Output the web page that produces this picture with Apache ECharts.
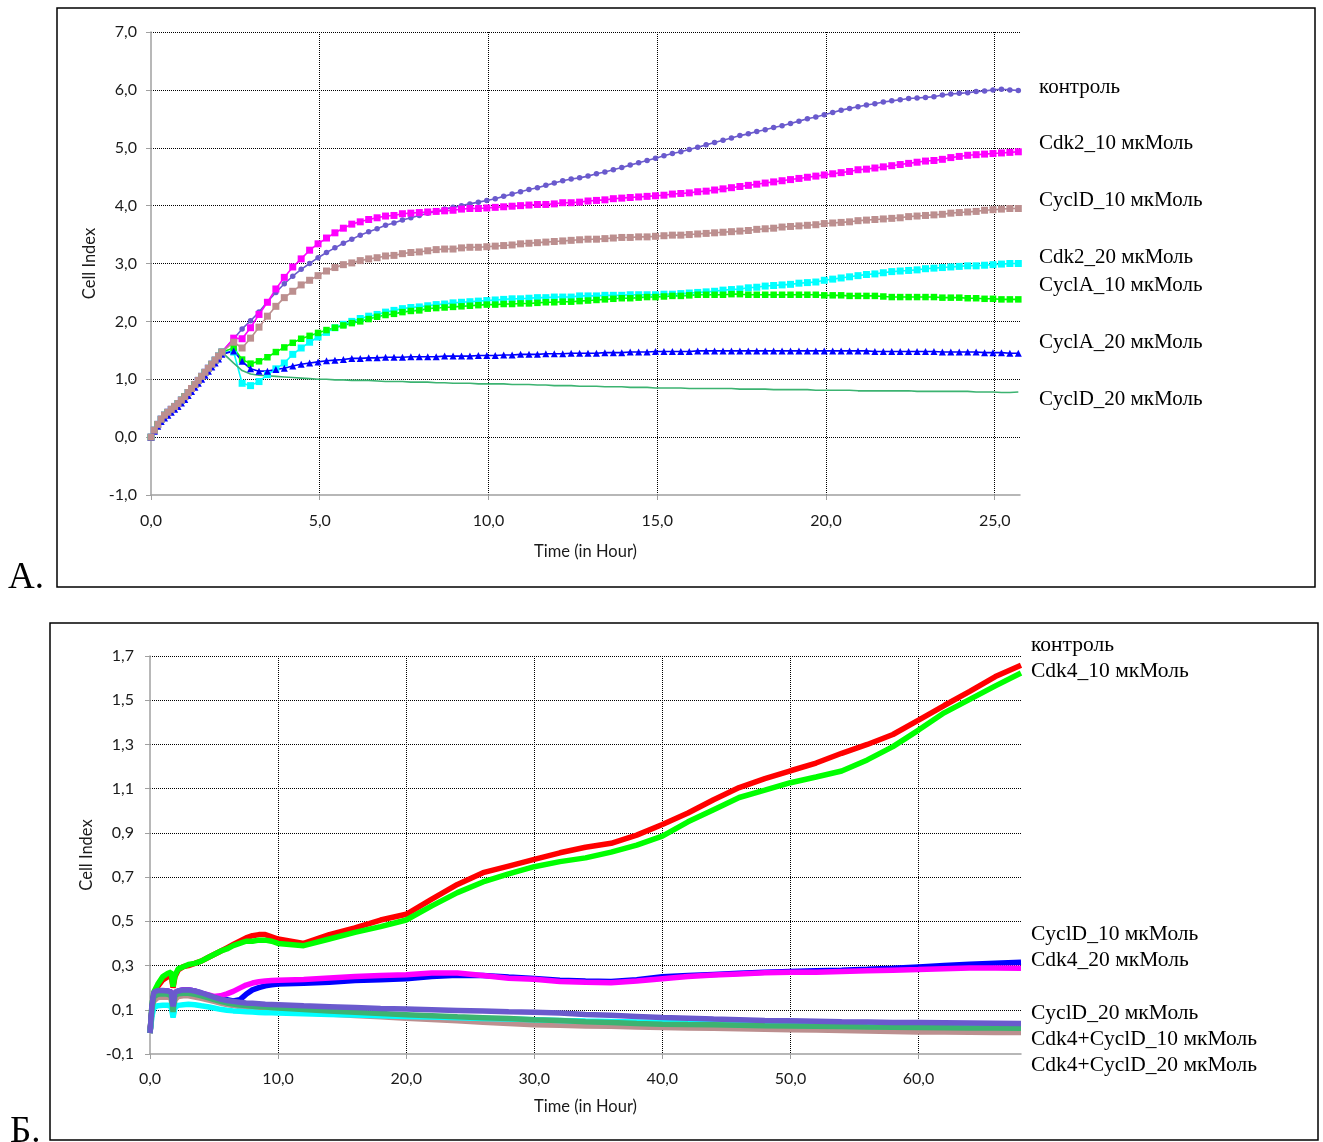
<!DOCTYPE html>
<html>
<head>
<meta charset="utf-8">
<script src="https://cdn.jsdelivr.net/npm/echarts@6/dist/echarts.min.js"></script>
<style>
  html, body { margin: 0; padding: 0; background: #fff; }
  #chart { width: 1323px; height: 1142px; }
</style>
</head>
<body>
<div id="chart"></div>
<script>
// ---- Панель A: данные ----
// частые измерения до добавления соединений
const timeEarlyA = [0, 0.1, 0.2, 0.3, 0.4, 0.5, 0.6, 0.7, 0.8, 0.9, 1.0,
  1.1, 1.2, 1.3, 1.4, 1.5, 1.6, 1.7, 1.8, 1.9, 2.0, 2.1]
const earlyA = [0.00, 0.12, 0.22, 0.31, 0.38, 0.43, 0.48, 0.53, 0.58, 0.64, 0.70,
  0.77, 0.84, 0.91, 0.98, 1.05, 1.12, 1.19, 1.26, 1.33, 1.40, 1.47]
const earlyBlueA = [0.00, 0.10, 0.19, 0.27, 0.33, 0.38, 0.43, 0.48, 0.53, 0.59, 0.65,
  0.72, 0.79, 0.86, 0.93, 1.00, 1.07, 1.14, 1.21, 1.28, 1.35, 1.43]

// измерения каждые 15 минут
const timeLateA = [2.45, 2.7, 2.95, 3.2, 3.45, 3.7, 3.95, 4.2, 4.45, 4.7,
  4.95, 5.2, 5.45, 5.7, 5.95, 6.2, 6.45, 6.7, 6.95, 7.2,
  7.45, 7.7, 7.95, 8.2, 8.45, 8.7, 8.95, 9.2, 9.45, 9.7,
  9.95, 10.2, 10.45, 10.7, 10.95, 11.2, 11.45, 11.7, 11.95, 12.2,
  12.45, 12.7, 12.95, 13.2, 13.45, 13.7, 13.95, 14.2, 14.45, 14.7,
  14.95, 15.2, 15.45, 15.7, 15.95, 16.2, 16.45, 16.7, 16.95, 17.2,
  17.45, 17.7, 17.95, 18.2, 18.45, 18.7, 18.95, 19.2, 19.45, 19.7,
  19.95, 20.2, 20.45, 20.7, 20.95, 21.2, 21.45, 21.7, 21.95, 22.2,
  22.45, 22.7, 22.95, 23.2, 23.45, 23.7, 23.95, 24.2, 24.45, 24.7,
  24.95, 25.2, 25.45, 25.7]

const controlA = [1.70, 1.87, 2.01, 2.16, 2.34, 2.50, 2.65, 2.78, 2.90, 3.00,
  3.10, 3.19, 3.27, 3.35, 3.42, 3.49, 3.55, 3.60, 3.66, 3.70,
  3.75, 3.79, 3.83, 3.87, 3.90, 3.94, 3.97, 4.00, 4.03, 4.06,
  4.09, 4.12, 4.16, 4.20, 4.24, 4.28, 4.31, 4.35, 4.39, 4.43,
  4.46, 4.48, 4.51, 4.55, 4.58, 4.62, 4.66, 4.70, 4.74, 4.78,
  4.82, 4.86, 4.90, 4.93, 4.97, 5.01, 5.05, 5.09, 5.13, 5.17,
  5.21, 5.24, 5.28, 5.31, 5.35, 5.38, 5.42, 5.46, 5.50, 5.53,
  5.57, 5.61, 5.65, 5.68, 5.71, 5.74, 5.76, 5.79, 5.81, 5.83,
  5.85, 5.86, 5.87, 5.88, 5.91, 5.93, 5.94, 5.95, 5.97, 5.98,
  6.00, 6.01, 6.00, 5.99]
const cdk2_10A = [1.71, 1.70, 1.89, 2.12, 2.33, 2.56, 2.76, 2.94, 3.08, 3.23,
  3.34, 3.44, 3.53, 3.61, 3.68, 3.72, 3.76, 3.79, 3.82, 3.83,
  3.86, 3.87, 3.88, 3.89, 3.90, 3.91, 3.92, 3.94, 3.95, 3.95,
  3.96, 3.97, 3.98, 3.99, 4.00, 4.01, 4.02, 4.02, 4.03, 4.05,
  4.05, 4.06, 4.08, 4.09, 4.10, 4.12, 4.13, 4.14, 4.15, 4.16,
  4.17, 4.18, 4.20, 4.21, 4.22, 4.24, 4.25, 4.27, 4.29, 4.31,
  4.33, 4.35, 4.37, 4.39, 4.41, 4.43, 4.45, 4.47, 4.49, 4.51,
  4.53, 4.55, 4.57, 4.59, 4.62, 4.63, 4.65, 4.67, 4.69, 4.71,
  4.73, 4.75, 4.77, 4.78, 4.80, 4.83, 4.85, 4.87, 4.88, 4.89,
  4.90, 4.91, 4.92, 4.93]
const cyclD_10A = [1.64, 1.54, 1.71, 1.90, 2.09, 2.26, 2.41, 2.52, 2.63, 2.71,
  2.79, 2.87, 2.93, 2.98, 3.01, 3.05, 3.08, 3.10, 3.13, 3.14,
  3.17, 3.19, 3.20, 3.22, 3.24, 3.25, 3.25, 3.27, 3.28, 3.28,
  3.29, 3.30, 3.31, 3.32, 3.34, 3.35, 3.36, 3.37, 3.38, 3.39,
  3.40, 3.41, 3.42, 3.42, 3.43, 3.44, 3.45, 3.45, 3.46, 3.46,
  3.47, 3.48, 3.49, 3.49, 3.50, 3.51, 3.52, 3.53, 3.54, 3.55,
  3.56, 3.57, 3.59, 3.60, 3.61, 3.63, 3.64, 3.65, 3.66, 3.67,
  3.69, 3.70, 3.71, 3.72, 3.74, 3.75, 3.76, 3.77, 3.78, 3.79,
  3.81, 3.82, 3.83, 3.84, 3.85, 3.87, 3.88, 3.89, 3.90, 3.92,
  3.93, 3.94, 3.95, 3.95]
const cdk2_20A = [1.47, 0.93, 0.89, 0.96, 1.08, 1.18, 1.28, 1.43, 1.54, 1.64,
  1.73, 1.81, 1.89, 1.95, 2.00, 2.05, 2.09, 2.12, 2.16, 2.19,
  2.22, 2.24, 2.25, 2.27, 2.29, 2.30, 2.32, 2.33, 2.34, 2.35,
  2.36, 2.37, 2.38, 2.39, 2.39, 2.40, 2.41, 2.41, 2.42, 2.42,
  2.42, 2.44, 2.44, 2.44, 2.45, 2.45, 2.45, 2.46, 2.46, 2.46,
  2.46, 2.47, 2.47, 2.48, 2.49, 2.50, 2.51, 2.52, 2.54, 2.55,
  2.56, 2.58, 2.59, 2.61, 2.62, 2.63, 2.64, 2.66, 2.67, 2.68,
  2.71, 2.73, 2.75, 2.77, 2.79, 2.81, 2.82, 2.84, 2.86, 2.87,
  2.88, 2.89, 2.91, 2.92, 2.93, 2.94, 2.95, 2.96, 2.96, 2.97,
  2.98, 2.99, 3.00, 3.00]
const cyclA_10A = [1.54, 1.34, 1.27, 1.31, 1.38, 1.47, 1.55, 1.63, 1.70, 1.75,
  1.80, 1.85, 1.89, 1.93, 1.97, 2.00, 2.04, 2.08, 2.11, 2.13,
  2.16, 2.18, 2.19, 2.22, 2.23, 2.24, 2.25, 2.26, 2.27, 2.28,
  2.29, 2.29, 2.30, 2.30, 2.31, 2.31, 2.32, 2.33, 2.33, 2.34,
  2.34, 2.35, 2.36, 2.37, 2.38, 2.39, 2.40, 2.40, 2.41, 2.42,
  2.42, 2.43, 2.44, 2.44, 2.45, 2.46, 2.46, 2.46, 2.46, 2.47,
  2.47, 2.46, 2.46, 2.46, 2.46, 2.46, 2.46, 2.46, 2.46, 2.46,
  2.45, 2.45, 2.45, 2.44, 2.44, 2.44, 2.44, 2.43, 2.42, 2.42,
  2.42, 2.42, 2.42, 2.42, 2.41, 2.41, 2.41, 2.40, 2.40, 2.39,
  2.39, 2.38, 2.38, 2.38]
const cyclA_20A = [1.49, 1.31, 1.18, 1.14, 1.14, 1.17, 1.19, 1.23, 1.26, 1.28,
  1.30, 1.32, 1.33, 1.34, 1.36, 1.36, 1.37, 1.37, 1.38, 1.38,
  1.38, 1.39, 1.39, 1.39, 1.39, 1.40, 1.40, 1.40, 1.40, 1.41,
  1.41, 1.41, 1.42, 1.42, 1.43, 1.43, 1.43, 1.44, 1.44, 1.44,
  1.45, 1.45, 1.45, 1.45, 1.46, 1.46, 1.46, 1.47, 1.47, 1.47,
  1.48, 1.48, 1.48, 1.48, 1.48, 1.49, 1.49, 1.49, 1.49, 1.49,
  1.49, 1.49, 1.49, 1.49, 1.49, 1.49, 1.49, 1.49, 1.49, 1.49,
  1.49, 1.49, 1.49, 1.49, 1.49, 1.49, 1.48, 1.48, 1.48, 1.48,
  1.48, 1.48, 1.48, 1.48, 1.47, 1.47, 1.47, 1.47, 1.47, 1.46,
  1.46, 1.46, 1.45, 1.45]
const cyclD_20A = [1.28, 1.15, 1.09, 1.07, 1.06, 1.05, 1.04, 1.03, 1.02, 1.01,
  1.00, 1.00, 0.99, 0.99, 0.98, 0.98, 0.98, 0.97, 0.96, 0.96,
  0.96, 0.95, 0.95, 0.95, 0.94, 0.94, 0.93, 0.93, 0.93, 0.92,
  0.92, 0.92, 0.92, 0.91, 0.91, 0.91, 0.90, 0.90, 0.89, 0.89,
  0.89, 0.88, 0.88, 0.88, 0.87, 0.87, 0.87, 0.86, 0.86, 0.86,
  0.85, 0.85, 0.85, 0.85, 0.84, 0.84, 0.84, 0.84, 0.84, 0.84,
  0.83, 0.83, 0.83, 0.83, 0.82, 0.82, 0.82, 0.82, 0.82, 0.81,
  0.81, 0.81, 0.81, 0.81, 0.80, 0.80, 0.80, 0.80, 0.80, 0.80,
  0.80, 0.79, 0.79, 0.79, 0.79, 0.79, 0.79, 0.79, 0.78, 0.78,
  0.78, 0.77, 0.77, 0.78]

// ---- Панель Б: данные ----
const timeB = [0, 0.15, 0.3, 0.6, 1.0, 1.4, 1.65, 1.8, 1.95, 2.2,
  2.6, 3, 3.5, 4, 4.5, 5, 5.5, 6, 6.5, 7,
  7.5, 8, 8.5, 9, 9.5,
  10, 12, 14, 16, 18, 20, 22, 24, 26, 28,
  30, 32, 34, 36, 38, 40, 42, 44, 46, 48,
  50, 52, 54, 56, 58, 60, 62, 64, 66, 68]
const controlB = [-0.005, 0.10, 0.17, 0.205, 0.235, 0.25, 0.255, 0.20, 0.25, 0.28,
  0.295, 0.30, 0.31, 0.32, 0.335, 0.35, 0.365, 0.38, 0.395, 0.41,
  0.425, 0.435, 0.44, 0.44, 0.43,
  0.42, 0.40, 0.44, 0.47, 0.506, 0.532, 0.60, 0.667, 0.72, 0.75,
  0.78, 0.81, 0.835, 0.853, 0.89, 0.938, 0.99, 1.05, 1.105, 1.145,
  1.181, 1.216, 1.26, 1.30, 1.345, 1.41, 1.476, 1.54, 1.607, 1.658]
const cdk4_10B = [-0.005, 0.12, 0.18, 0.215, 0.25, 0.265, 0.27, 0.205, 0.255, 0.285,
  0.295, 0.305, 0.31, 0.32, 0.335, 0.35, 0.365, 0.375, 0.39, 0.40,
  0.41, 0.41, 0.415, 0.415, 0.41,
  0.40, 0.39, 0.42, 0.45, 0.476, 0.506, 0.57, 0.63, 0.678, 0.715,
  0.747, 0.77, 0.787, 0.813, 0.845, 0.885, 0.95, 1.005, 1.06, 1.093,
  1.127, 1.153, 1.18, 1.23, 1.29, 1.365, 1.443, 1.504, 1.565, 1.623]
const cyclD_10B = [-0.005, 0.10, 0.17, 0.185, 0.185, 0.185, 0.18, 0.11, 0.175, 0.185,
  0.19, 0.19, 0.185, 0.175, 0.165, 0.155, 0.148, 0.145, 0.14, 0.145,
  0.17, 0.19, 0.20, 0.208, 0.213,
  0.217, 0.22, 0.225, 0.232, 0.236, 0.24, 0.25, 0.256, 0.255, 0.248,
  0.242, 0.234, 0.23, 0.228, 0.236, 0.249, 0.255, 0.26, 0.265, 0.27,
  0.273, 0.276, 0.279, 0.283, 0.288, 0.294, 0.30, 0.306, 0.311, 0.315]
const cdk4_20B = [-0.005, 0.10, 0.17, 0.185, 0.185, 0.185, 0.18, 0.11, 0.175, 0.185,
  0.19, 0.19, 0.185, 0.175, 0.168, 0.16, 0.163, 0.172, 0.183, 0.198,
  0.212, 0.221, 0.227, 0.23, 0.232,
  0.233, 0.237, 0.244, 0.25, 0.255, 0.258, 0.266, 0.266, 0.255, 0.243,
  0.238, 0.228, 0.224, 0.222, 0.23, 0.24, 0.25, 0.257, 0.262, 0.267,
  0.27, 0.27, 0.273, 0.276, 0.279, 0.282, 0.286, 0.289, 0.289, 0.288]
const cyclD_20B = [-0.005, 0.12, 0.18, 0.187, 0.187, 0.185, 0.18, 0.115, 0.18, 0.185,
  0.19, 0.19, 0.185, 0.177, 0.167, 0.157, 0.148, 0.142, 0.138, 0.134,
  0.131, 0.129, 0.127, 0.125, 0.124,
  0.123, 0.118, 0.114, 0.11, 0.106, 0.103, 0.10, 0.097, 0.094, 0.091,
  0.089, 0.085, 0.079, 0.075, 0.07, 0.065, 0.062, 0.058, 0.055, 0.052,
  0.05, 0.048, 0.046, 0.045, 0.043, 0.042, 0.041, 0.04, 0.039, 0.038]
const seaGreenB = [-0.005, 0.10, 0.16, 0.17, 0.172, 0.17, 0.165, 0.09, 0.165, 0.172,
  0.175, 0.175, 0.17, 0.163, 0.155, 0.146, 0.138, 0.131, 0.126, 0.122,
  0.119, 0.116, 0.114, 0.112, 0.11,
  0.108, 0.101, 0.095, 0.089, 0.083, 0.078, 0.073, 0.068, 0.064, 0.06,
  0.055, 0.051, 0.046, 0.042, 0.038, 0.035, 0.033, 0.032, 0.03, 0.028,
  0.027, 0.025, 0.024, 0.022, 0.021, 0.02, 0.019, 0.018, 0.018, 0.017]
const combo_10B = [-0.005, 0.07, 0.11, 0.118, 0.12, 0.12, 0.115, 0.065, 0.11, 0.12,
  0.123, 0.125, 0.123, 0.118, 0.114, 0.108, 0.102, 0.098, 0.095, 0.093,
  0.091, 0.09, 0.088, 0.087, 0.086,
  0.085, 0.082, 0.079, 0.076, 0.073, 0.07, 0.067, 0.064, 0.061, 0.058,
  0.055, 0.052, 0.049, 0.047, 0.045, 0.042, 0.04, 0.037, 0.034, 0.032,
  0.03, 0.029, 0.027, 0.026, 0.025, 0.024, 0.024, 0.025, 0.026, 0.027]
const combo_20B = [-0.005, 0.08, 0.14, 0.155, 0.158, 0.157, 0.152, 0.07, 0.145, 0.16,
  0.163, 0.163, 0.158, 0.152, 0.145, 0.138, 0.13, 0.124, 0.119, 0.115,
  0.111, 0.107, 0.103, 0.10, 0.096,
  0.093, 0.087, 0.081, 0.074, 0.068, 0.062, 0.056, 0.05, 0.044, 0.038,
  0.032, 0.03, 0.027, 0.025, 0.022, 0.02, 0.018, 0.016, 0.014, 0.012,
  0.01, 0.008, 0.006, 0.004, 0.002, 0.0, -0.001, -0.002, -0.003, -0.003]

// подписи кривых справа
const labelsA = ['контроль', 'Cdk2_10 мкМоль', 'CyclD_10 мкМоль', 'Cdk2_20 мкМоль',
  'CyclA_10 мкМоль', 'CyclA_20 мкМоль', 'CyclD_20 мкМоль']
const labelsB = ['контроль', 'Cdk4_10 мкМоль', 'CyclD_10 мкМоль', 'Cdk4_20 мкМоль',
  'CyclD_20 мкМоль', 'Cdk4+CyclD_10 мкМоль', 'Cdk4+CyclD_20 мкМоль']

// ---- построение ----
const timeA = timeEarlyA.concat(timeLateA)
const pairs = (xs, ys) => xs.map((x, i) => [x, ys[i]])
const fmt = v => v.toFixed(1).replace('.', ',')

const gridLine = { show: true, lineStyle: { color: '#000', type: [1, 1], width: 1 } }
const axisGray = { show: true, onZero: false, lineStyle: { color: '#a0a0a0', width: 1.5 } }
const tickFont = { fontFamily: 'Lato', fontSize: 16, color: '#1a1a1a' }
const nameFont = { fontFamily: 'Lato', fontSize: 16.5, color: '#1a1a1a' }

const lineA = (name, ys, color, symbol, size, early) => ({
  name, type: 'line', xAxisIndex: 0, yAxisIndex: 0,
  data: pairs(timeA, (early || earlyA).concat(ys)),
  symbol, symbolSize: size, showSymbol: symbol !== 'none',
  itemStyle: { color }, lineStyle: { color, width: 1.6 },
  animation: false, silent: true
})
const lineB = (name, ys, color) => ({
  name, type: 'line', xAxisIndex: 1, yAxisIndex: 1,
  data: pairs(timeB, ys), showSymbol: false,
  lineStyle: { color, width: 5.5 }, itemStyle: { color },
  animation: false, silent: true
})

const chart = echarts.init(document.getElementById('chart'))

const labelTexts = []
const yA = [87, 143, 200, 257, 285, 342, 399]
labelsA.forEach((t, i) => labelTexts.push({
  type: 'text', x: 1039, y: yA[i],
  style: { text: t, font: '21px "Liberation Serif"', fill: '#000', align: 'left', verticalAlign: 'middle' }
}))
const yB = [645, 671, 934, 960, 1013, 1039, 1065]
labelsB.forEach((t, i) => labelTexts.push({
  type: 'text', x: 1031, y: yB[i],
  style: { text: t, font: '21.5px "Liberation Serif"', fill: '#000', align: 'left', verticalAlign: 'middle' }
}))

chart.setOption({
  backgroundColor: '#fff',
  animation: false,
  grid: [
    { left: 151, top: 32, width: 869, height: 463 },
    { left: 150, top: 656, width: 871, height: 398 }
  ],
  xAxis: [
    {
      gridIndex: 0, type: 'value', min: 0, max: 25.75, interval: 5,
      name: 'Time (in Hour)', nameLocation: 'middle', nameGap: 48, nameTextStyle: nameFont,
      axisLine: axisGray,
      axisTick: { show: true, length: 5, lineStyle: { color: '#a0a0a0' } },
      axisLabel: Object.assign({ margin: 18, showMaxLabel: false, formatter: fmt }, tickFont),
      splitLine: Object.assign({ showMinLine: false, showMaxLine: false }, gridLine)
    },
    {
      gridIndex: 1, type: 'value', min: 0, max: 68, interval: 10,
      name: 'Time (in Hour)', nameLocation: 'middle', nameGap: 44, nameTextStyle: nameFont,
      axisLine: axisGray,
      axisTick: { show: true, length: 5, lineStyle: { color: '#a0a0a0' } },
      axisLabel: Object.assign({ margin: 17, showMaxLabel: false, formatter: fmt }, tickFont),
      splitLine: Object.assign({ showMinLine: false, showMaxLine: false }, gridLine)
    }
  ],
  yAxis: [
    {
      gridIndex: 0, type: 'value', min: -1, max: 7, interval: 1,
      name: 'Cell Index', nameLocation: 'middle', nameGap: 52, nameTextStyle: nameFont,
      axisLine: axisGray,
      axisTick: { show: true, length: 5, lineStyle: { color: '#a0a0a0' } },
      axisLabel: Object.assign({ margin: 14, formatter: fmt }, tickFont),
      splitLine: Object.assign({ showMinLine: false }, gridLine)
    },
    {
      gridIndex: 1, type: 'value', min: -0.1, max: 1.7, interval: 0.2,
      name: 'Cell Index', nameLocation: 'middle', nameGap: 54, nameTextStyle: nameFont,
      axisLine: axisGray,
      axisTick: { show: true, length: 5, lineStyle: { color: '#a0a0a0' } },
      axisLabel: Object.assign({ margin: 16, formatter: fmt }, tickFont),
      splitLine: Object.assign({ showMinLine: false }, gridLine)
    }
  ],
  graphic: [
    { type: 'rect', shape: { x: 57, y: 8, width: 1258, height: 579 },
      style: { fill: 'none', stroke: '#000', lineWidth: 1.5 } },
    { type: 'rect', shape: { x: 50, y: 623, width: 1268, height: 517 },
      style: { fill: 'none', stroke: '#000', lineWidth: 1.5 } },
    { type: 'text', x: 8, y: 578,
      style: { text: 'A.', font: '37px "Liberation Serif"', fill: '#000', verticalAlign: 'middle' } },
    { type: 'text', x: 10, y: 1132,
      style: { text: 'Б.', font: '37px "Liberation Serif"', fill: '#000', verticalAlign: 'middle' } }
  ].concat(labelTexts),
  series: [
    lineA('контроль', controlA, '#6A5ACD', 'circle', 5.5),
    lineA('Cdk2_10 мкМоль', cdk2_10A, '#FF00FF', 'rect', 7),
    lineA('Cdk2_20 мкМоль', cdk2_20A, '#00FFFF', 'rect', 7),
    lineA('CyclA_10 мкМоль', cyclA_10A, '#00FF00', 'rect', 6.5),
    lineA('CyclA_20 мкМоль', cyclA_20A, '#0000FF', 'triangle', 7, earlyBlueA),
    lineA('CyclD_10 мкМоль', cyclD_10A, '#BC8F8F', 'rect', 7),
    lineA('CyclD_20 мкМоль', cyclD_20A, '#3CB371', 'none', 0),

    lineB('контроль', controlB, '#FF0000'),
    lineB('Cdk4_10 мкМоль', cdk4_10B, '#00FF00'),
    lineB('CyclD_10 мкМоль', cyclD_10B, '#0000FF'),
    lineB('Cdk4_20 мкМоль', cdk4_20B, '#FF00FF'),
    lineB('Cdk4+CyclD_20 мкМоль', combo_20B, '#BC8F8F'),
    lineB('Cdk4+CyclD_10 мкМоль', combo_10B, '#00FFFF'),
    lineB('CyclD_20 мкМоль (2)', seaGreenB, '#3CB371'),
    lineB('CyclD_20 мкМоль', cyclD_20B, '#6A5ACD')
  ]
})
</script>
</body>
</html>
